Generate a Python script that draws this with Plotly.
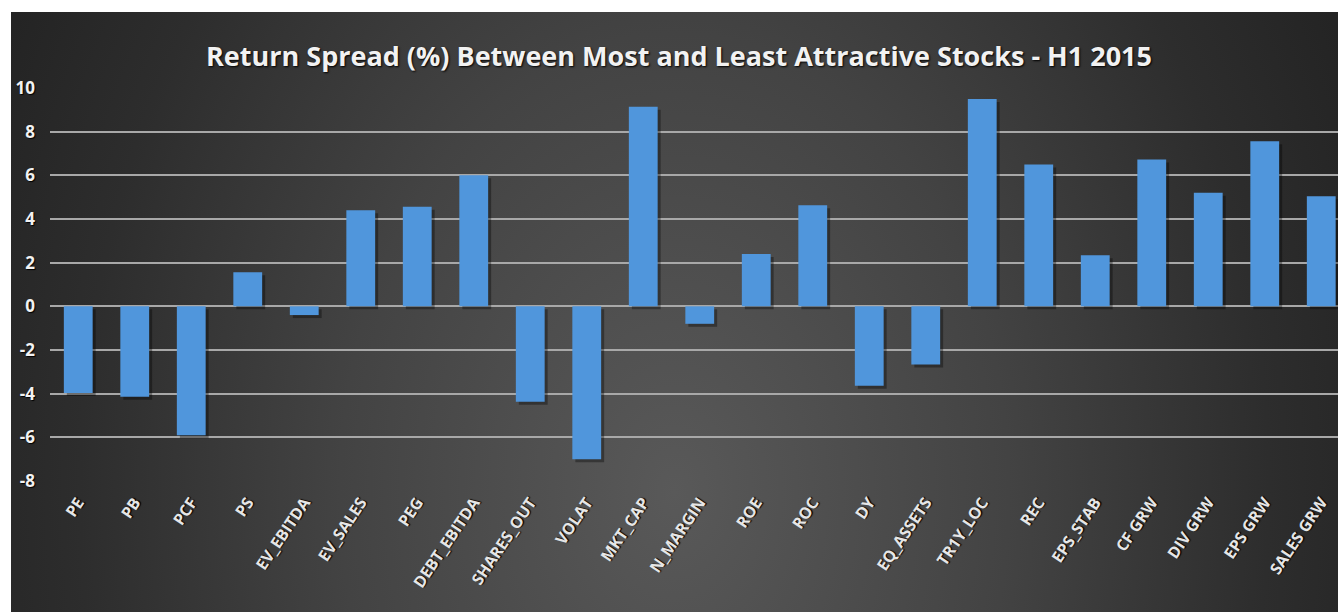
import base64
import plotly.graph_objects as go

categories = ["PE", "PB", "PCF", "PS", "EV_EBITDA", "EV_SALES", "PEG", "DEBT_EBITDA",
              "SHARES_OUT", "VOLAT", "MKT_CAP", "N_MARGIN", "ROE", "ROC", "DY",
              "EQ_ASSETS", "TR1Y_LOC", "REC", "EPS_STAB", "CF GRW", "DIV GRW",
              "EPS GRW", "SALES GRW"]
spread = [-3.97, -4.14, -5.9, 1.56, -0.4, 4.4, 4.56, 6.0,
          -4.37, -7.0, 9.14, -0.8, 2.4, 4.63, -3.64,
          -2.66, 9.5, 6.5, 2.34, 6.72, 5.2, 7.56, 5.04]
y_ticks = [10, 8, 6, 4, 2, 0, -2, -4, -6, -8]
title_text = "Return Spread (%) Between Most and Least Attractive Stocks - H1 2015"

W, H = 1338, 612
L, R, T, B = 50, 0, 88, 131
pw, ph = W - L - R, H - T - B
cat_px = 56.5
unit_px = ph / 18.0
bar_w = 0.51

# radial background (chart area)
bx0, by0 = 11, 12
bw, bh = W - bx0, H - by0
svg = f'''<svg xmlns="http://www.w3.org/2000/svg" width="{bw}" height="{bh}" viewBox="0 0 {bw} {bh}">
<defs><radialGradient id="g" gradientUnits="userSpaceOnUse" cx="0" cy="0" r="1"
 gradientTransform="translate({bw*0.5:.1f},{bh*0.8:.1f}) scale({bw*0.56:.1f},{bh*1.7:.1f})">
<stop offset="0" stop-color="#595959"/><stop offset="0.45" stop-color="#434343"/>
<stop offset="0.8" stop-color="#2d2d2d"/><stop offset="1" stop-color="#242424"/>
</radialGradient></defs>
<rect x="0" y="0" width="{bw}" height="{bh}" fill="url(#g)"/></svg>'''
src = "data:image/svg+xml;base64," + base64.b64encode(svg.encode()).decode()

fig = go.Figure()
# soft shadow behind bars
sh_dx = 3 / cat_px
sh_dy = 3 / unit_px
fig.add_trace(go.Bar(
    x=categories, y=spread, base=[-sh_dy] * len(spread),
    width=bar_w, offset=-bar_w / 2 + sh_dx,
    marker=dict(color="rgba(0,0,0,0.35)", line=dict(width=0)),
    hoverinfo="skip",
))
fig.add_trace(go.Bar(
    x=categories, y=spread,
    width=bar_w, offset=-bar_w / 2,
    marker=dict(color="#5096dc", line=dict(width=0)),
    hoverinfo="x+y",
))

fig.update_layout(
    width=W, height=H,
    margin=dict(l=L, r=R, t=T, b=B, pad=0),
    paper_bgcolor="white",
    plot_bgcolor="rgba(0,0,0,0)",
    barmode="overlay",
    showlegend=False,
    title=dict(
        text=title_text,
        x=679 / W, xref="container", xanchor="center",
        y=1 - 57 / H, yref="container", yanchor="middle",
        font=dict(family="Open Sans", size=27, color="#f2f2f2", weight="bold",
                  shadow="1px 1px 2px #000000"),
    ),
    images=[dict(
        source=src, xref="paper", yref="paper",
        x=(bx0 - L) / pw, y=(H - B - by0) / ph,
        sizex=bw / pw, sizey=bh / ph,
        xanchor="left", yanchor="top", sizing="stretch", layer="below",
    )],
    xaxis=dict(
        range=[-0.5, -0.5 + pw / cat_px],
        tickangle=-56,
        tickfont=dict(family="Open Sans", size=16, color="#e6e6e6", weight="bold",
                      shadow="1px 1px 1px #000000"),
        showgrid=False, zeroline=False, showline=False, ticks="",
        ticklabelstandoff=8,
    ),
    yaxis=dict(
        range=[-8, 10],
        tickvals=y_ticks,
        ticktext=[str(v) for v in y_ticks],
        tickfont=dict(family="Open Sans", size=17, color="#f2f2f2", weight="bold",
                      shadow="1px 1px 1px #000000"),
        showgrid=True, gridcolor="#a8a8a8", gridwidth=2,
        zeroline=True, zerolinecolor="#a8a8a8", zerolinewidth=2,
        ticks="", ticklabelstandoff=14,
    ),
)

fig.write_html("out.html")
